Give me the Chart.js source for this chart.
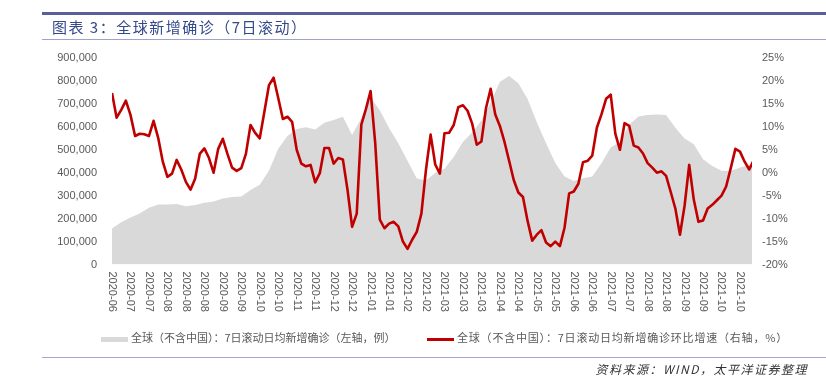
<!DOCTYPE html>
<html lang="zh">
<head>
<meta charset="UTF-8">
<title>全球新增确诊（7日滚动）</title>
<script src="https://cdn.jsdelivr.net/npm/chart.js"></script>
<style>
  body { margin: 0; width: 826px; height: 376px; background: #fff; position: relative; overflow: hidden;
         font-family: "Noto Sans CJK SC", sans-serif; }
  #chart { position: absolute; left: 0; top: 0; }
  .rule-top { position: absolute; left: 42px; right: 0; top: 12px; height: 3px; background: #5b5e98; }
  .rule-sub { position: absolute; left: 42px; right: 0; top: 39px; height: 1px; background: #9fa2cc; }
  .rule-bottom { position: absolute; left: 42px; right: 0; top: 357px; height: 1px; background: #a5a8d0; }
  .title { position: absolute; left: 52px; top: 16px; font-size: 15px; line-height: 22px; color: #34498a; letter-spacing: 1.5px; }
  .legend { position: absolute; top: 329px; font-size: 11px; line-height: 16px; color: #595959; white-space: nowrap; }
  .legend .mark { display: inline-block; width: 27px; vertical-align: middle; margin-right: 3px; }
  .source { position: absolute; right: 18px; top: 361px; font-size: 12px; line-height: 16px; font-style: italic; color: #333; letter-spacing: 1.5px; }
</style>
</head>
<body>
<canvas id="chart" width="826" height="376"></canvas>
<div class="rule-top"></div>
<div class="title">图表 3：全球新增确诊（7日滚动）</div>
<div class="rule-sub"></div>
<div class="legend" style="left:101px"><span class="mark" style="height:5px;background:#d9d9d9"></span>全球（不含中国）：7日滚动日均新增确诊（左轴，例）</div>
<div class="legend" style="left:427px;letter-spacing:0.8px"><span class="mark" style="height:3px;background:#c00000"></span>全球（不含中国）：7日滚动日均新增确诊环比增速（右轴，%）</div>
<div class="rule-bottom"></div>
<div class="source">资料来源：WIND，太平洋证券整理</div>

<script>
    // x tick labels (one every ~half month)
    const tickLabels = ['2020-06', '2020-07', '2020-07', '2020-08', '2020-08', '2020-08', '2020-09', '2020-09',
        '2020-10', '2020-10', '2020-11', '2020-11', '2020-12', '2020-12', '2021-01', '2021-01', '2021-02', '2021-02',
        '2021-03', '2021-03', '2021-03', '2021-04', '2021-04', '2021-05', '2021-05', '2021-06', '2021-06',
        '2021-07', '2021-07', '2021-08', '2021-08', '2021-09', '2021-09', '2021-10', '2021-10'];

    // 7-day rolling daily new cases, ex-China (left axis), one value per half tick
    const casesStep = 0.5;
    const casesValues = [
        157000, 184000, 205000, 222000, 247000, 262000, 261000, 264000, 254000, 259000,
        269000, 275000, 288000, 294000, 296000, 325000, 348000, 410000, 505000, 560000,
        591000, 598000, 588000, 618000, 630000, 644000, 564000, 638000, 728000, 672000,
        595000, 528000, 452000, 375000, 367000, 399000, 417000, 469000, 535000, 575000,
        628000, 706000, 796000, 822000, 790000, 721000, 620000, 528000, 442000, 384000,
        364000, 376000, 384000, 441000, 510000, 535000, 609000, 645000, 652000, 654000,
        652000, 596000, 549000, 524000, 459000, 429000, 409000, 407000, 423000, 434000,
        434000];

    // week-on-week growth rate, % (right axis), one value per quarter tick
    const growthStep = 0.25;
    const growthValues = [
        17.4, 12.0, 13.7, 15.7, 12.6, 8.0, 8.5, 8.4, 8.0, 11.3,
        7.6, 2.4, -0.9, -0.2, 2.8, 0.7, -2.0, -3.7, -1.3, 4.1,
        5.3, 3.2, 0.0, 5.2, 7.4, 4.1, 1.1, 0.4, 1.0, 4.1,
        10.4, 8.7, 7.5, 13.3, 19.1, 20.7, 16.3, 11.7, 12.2, 11.1,
        5.0, 2.0, 1.4, 1.7, -2.1, -0.1, 5.4, 5.4, 2.0, 3.2,
        2.9, -3.7, -11.8, -8.9, 10.5, 13.9, 17.8, 6.5, -10.2, -12.1,
        -11.1, -10.7, -11.7, -15.0, -16.6, -14.6, -12.9, -8.9, 0.7, 8.3,
        1.8, -0.2, 8.6, 8.7, 10.4, 14.3, 14.7, 13.5, 10.7, 6.1,
        6.8, 14.1, 18.3, 12.7, 10.2, 6.7, 2.6, -1.6, -4.3, -5.3,
        -10.5, -14.8, -13.5, -12.5, -15.2, -16.0, -15.0, -16.0, -12.0, -4.5,
        -4.1, -2.4, 2.3, 2.6, 3.7, 9.8, 12.7, 16.1, 17.0, 8.5,
        5.0, 10.8, 10.2, 5.9, 5.5, 4.2, 2.1, 1.1, 0.0, 0.3,
        -0.7, -4.2, -7.8, -13.5, -7.2, 1.7, -5.9, -10.7, -10.4, -7.8,
        -7.0, -6.0, -5.0, -3.0, 1.0, 5.2, 4.6, 2.4, 0.7, 2.8];

    const tickFont = { family: '"Liberation Sans", Arial, sans-serif', size: 11 };
    const tickColor = '#595959';

    // x labels in the reference read top to bottom, so draw them ourselves
    const xLabelPlugin = {
        id: 'xLabels',
        afterDraw(chart) {
            const ctx = chart.ctx;
            const xs = chart.scales.x;
            ctx.save();
            ctx.font = '11px "Liberation Sans", Arial, sans-serif';
            ctx.fillStyle = tickColor;
            ctx.textAlign = 'left';
            ctx.textBaseline = 'middle';
            tickLabels.forEach((t, i) => {
                ctx.save();
                ctx.translate(xs.getPixelForValue(i), chart.chartArea.bottom + 7);
                ctx.rotate(Math.PI / 2);
                ctx.fillText(t, 0, 0);
                ctx.restore();
            });
            ctx.restore();
        }
    };

    new Chart(document.getElementById('chart'), {
        type: 'line',
        data: {
            datasets: [{
                label: '全球（不含中国）：7日滚动日均新增确诊环比增速（右轴，%）',
                data: growthValues.map((v, i) => ({ x: i * growthStep, y: v })),
                yAxisID: 'y1',
                borderColor: '#c00000',
                borderWidth: 2.6,
                borderJoinStyle: 'round',
                pointRadius: 0,
                fill: false,
                order: 1
            }, {
                label: '全球（不含中国）：7日滚动日均新增确诊（左轴，例）',
                data: casesValues.map((v, i) => ({ x: i * casesStep, y: v })),
                yAxisID: 'y',
                backgroundColor: '#d9d9d9',
                borderWidth: 0,
                pointRadius: 0,
                fill: 'origin',
                order: 2
            }]
        },
        options: {
            responsive: false,
            animation: false,
            layout: { padding: { top: 58, bottom: 111.5, left: 0, right: 0 } },
            plugins: { legend: { display: false }, tooltip: { enabled: false } },
            scales: {
                x: { type: 'linear', display: false, min: 0, max: 34.65 },
                y: {
                    position: 'left', min: 0, max: 900000,
                    afterFit: s => { s.width = 112; },
                    grid: { display: false, drawTicks: false },
                    border: { display: false },
                    ticks: { stepSize: 100000, padding: 15, color: tickColor, font: tickFont,
                             callback: v => v.toLocaleString('en-US') }
                },
                y1: {
                    position: 'right', min: -20, max: 25,
                    afterFit: s => { s.width = 74; },
                    grid: { display: false, drawTicks: false },
                    border: { display: false },
                    ticks: { stepSize: 5, padding: 10, color: tickColor, font: tickFont,
                             callback: v => v + '%' }
                }
            }
        },
        plugins: [xLabelPlugin]
    });
</script>
</body>
</html>
